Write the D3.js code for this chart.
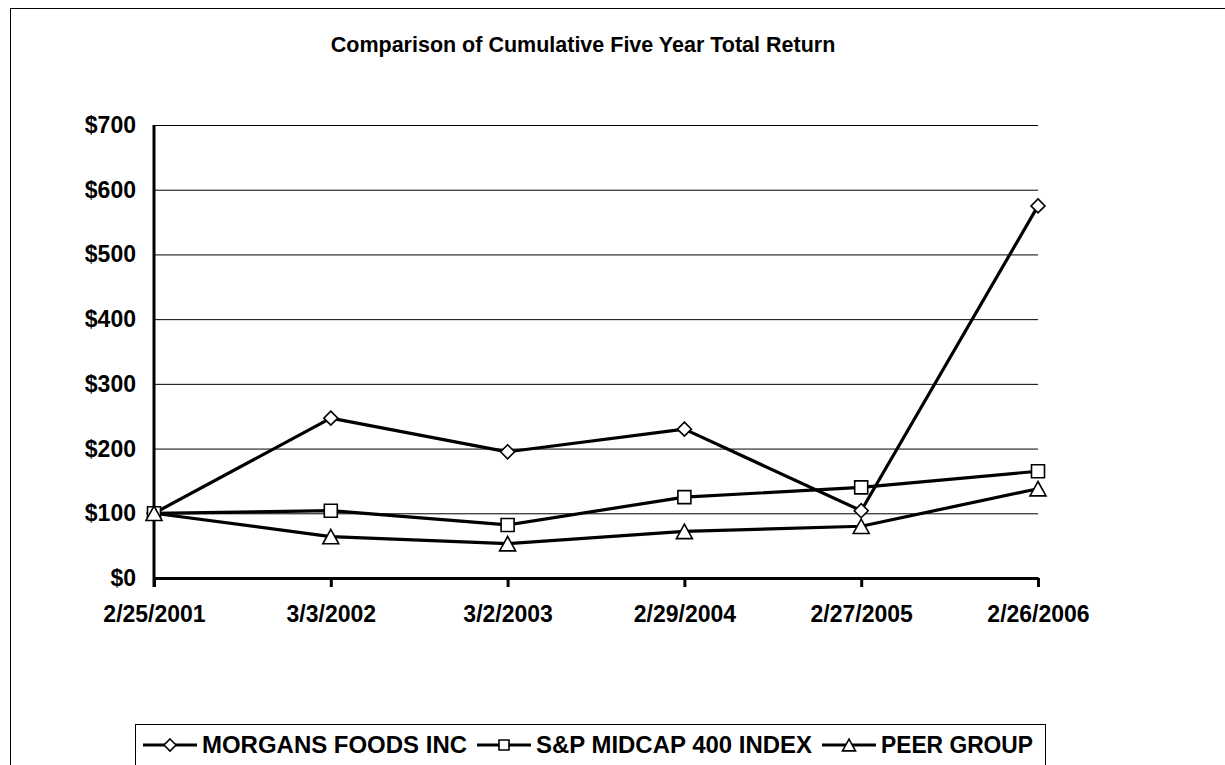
<!DOCTYPE html>
<html lang="en-US">
<head>
<meta charset="utf-8">
<script src="https://d3js.org/d3.v7.min.js"></script>
<style>
body { margin: 0; background: #fff; }
svg { display: block; }
text { font-family: 'Liberation Sans', Arial, sans-serif; font-weight: bold; fill: #000; }
.grid line { stroke: #000; stroke-width: 1; }
.grid path { stroke-width: 0; }
.series { fill: none; stroke: #000; stroke-width: 3.2; stroke-linejoin: round; }
.marker { fill: #fff; stroke: #000; stroke-width: 1.6; }
</style>
</head>
<body>
<svg id="chart" width="1225" height="765"></svg>
<script>
// periods on the x axis
const dates = ['2/25/2001', '3/3/2002', '3/2/2003', '2/29/2004', '2/27/2005', '2/26/2006'];

// cumulative return values
const morgans = [100, 247, 195, 230, 104, 575];
const midcap = [100, 104, 82, 125, 140, 165];
const peer = [100, 64, 53, 72, 80, 138];

const yTicks = [0, 100, 200, 300, 400, 500, 600, 700];

const seriesNames = ['MORGANS FOODS INC', 'S&P MIDCAP 400 INDEX', 'PEER GROUP'];
const seriesData = [morgans, midcap, peer];

// excel style markers, size = half width
const diamond = { draw(ctx, r) { ctx.moveTo(0, -r); ctx.lineTo(r, 0); ctx.lineTo(0, r); ctx.lineTo(-r, 0); ctx.closePath(); } };
const square = { draw(ctx, r) { ctx.rect(-r, -r, 2 * r, 2 * r); } };
const triangle = { draw(ctx, r) { const h = r * 0.9; ctx.moveTo(0, -h); ctx.lineTo(r, h); ctx.lineTo(-r, h); ctx.closePath(); } };
const seriesSymbols = [diamond, square, triangle];
const markerR = [7, 6.5, 8];
const legendR = [6, 5, 6.5];

const svg = d3.select('#chart');

// outer frame (runs off the right and bottom edges)
svg.append('rect')
  .attr('x', 10.5).attr('y', 8.5)
  .attr('width', 1300).attr('height', 900)
  .attr('fill', 'none').attr('stroke', '#000').attr('stroke-width', 1);

svg.append('text')
  .attr('x', 583).attr('y', 52)
  .attr('text-anchor', 'middle')
  .style('font-size', '21.5px')
  .text('Comparison of Cumulative Five Year Total Return');

const plotLeft = 154, plotRight = 1038, plotTop = 125, plotBottom = 578;

const x = d3.scalePoint().domain(dates).range([plotLeft, plotRight]);
const y = d3.scaleLinear().domain([0, 700]).range([plotBottom, plotTop]);

// gridlines
svg.append('g')
  .attr('class', 'grid')
  .attr('transform', `translate(${plotLeft},0)`)
  .call(d3.axisLeft(y).tickValues(yTicks.slice(1)).tickSize(-(plotRight - plotLeft)).tickFormat(''));

// y labels
svg.append('g')
  .selectAll('text')
  .data(yTicks)
  .join('text')
  .attr('x', 136)
  .attr('y', d => y(d) + 8)
  .attr('text-anchor', 'end')
  .style('font-size', '23px')
  .text(d => '$' + d);

// x axis
const xAxis = svg.append('g')
  .attr('transform', `translate(0,${plotBottom})`)
  .call(d3.axisBottom(x).tickSize(9).tickSizeOuter(0).tickPadding(0));
xAxis.select('.domain').attr('stroke', '#000').attr('stroke-width', 3);
xAxis.selectAll('.tick line').attr('stroke', '#000').attr('stroke-width', 3);
xAxis.selectAll('.tick text')
  .attr('fill', '#000')
  .attr('dy', null)
  .attr('y', 44)
  .style('font-size', '23px')
  .style('font-family', "'Liberation Sans', Arial, sans-serif")
  .style('font-weight', 'bold');

// y axis line
svg.append('line')
  .attr('x1', plotLeft).attr('x2', plotLeft)
  .attr('y1', plotTop).attr('y2', plotBottom + 9)
  .attr('stroke', '#000').attr('stroke-width', 3);

const line = d3.line()
  .x((d, i) => x(dates[i]))
  .y(d => y(d));

seriesData.forEach(data => {
  svg.append('path')
    .attr('class', 'series')
    .attr('d', line(data));
});

seriesData.forEach((data, k) => {
  svg.append('g')
    .selectAll('path')
    .data(data)
    .join('path')
    .attr('class', 'marker')
    .attr('transform', (d, i) => `translate(${x(dates[i])},${y(d)})`)
    .attr('d', d3.symbol().type(seriesSymbols[k]).size(markerR[k]));
});

// legend
svg.append('rect')
  .attr('x', 135.5).attr('y', 724.5)
  .attr('width', 910).attr('height', 100)
  .attr('fill', '#fff').attr('stroke', '#000').attr('stroke-width', 1);

const legendX = [143, 477, 822];
const legendTextEnd = [467, 812, 1033];
const ly = 745;
seriesNames.forEach((name, k) => {
  const g = svg.append('g');
  g.append('line')
    .attr('x1', legendX[k]).attr('x2', legendX[k] + 54)
    .attr('y1', ly).attr('y2', ly)
    .attr('stroke', '#000').attr('stroke-width', 3);
  g.append('path')
    .attr('class', 'marker')
    .attr('transform', `translate(${legendX[k] + 27},${ly})`)
    .attr('d', d3.symbol().type(seriesSymbols[k]).size(legendR[k]));
  g.append('text')
    .attr('x', legendX[k] + 59)
    .attr('y', ly + 8)
    .attr('textLength', legendTextEnd[k] - legendX[k] - 59)
    .attr('lengthAdjust', 'spacingAndGlyphs')
    .style('font-size', '23px')
    .text(name);
});
</script>
</body>
</html>
